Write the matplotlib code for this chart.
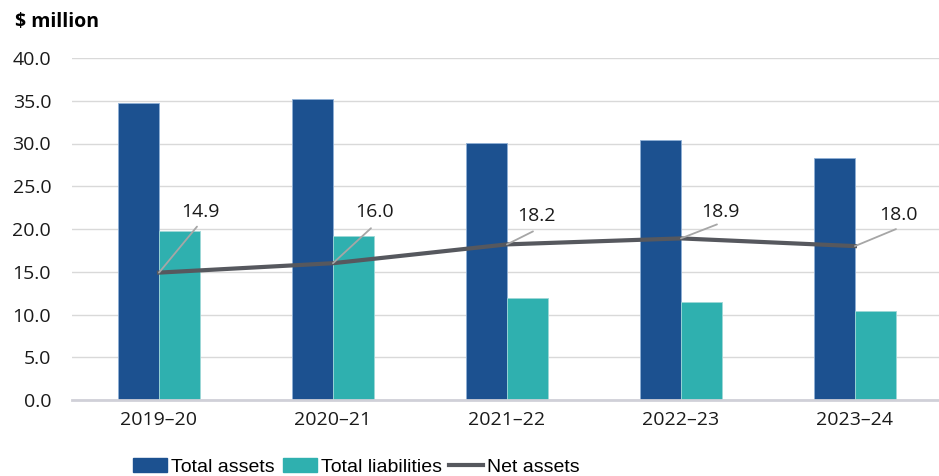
import matplotlib.pyplot as plt
from matplotlib.patches import Patch
from matplotlib.lines import Line2D
import numpy as np

years = ["2019–20", "2020–21", "2021–22", "2022–23", "2023–24"]
total_assets = [34.7, 35.2, 30.1, 30.4, 28.3]
total_liabilities = [19.8, 19.2, 11.9, 11.5, 10.4]
net_assets = [14.9, 16.0, 18.2, 18.9, 18.0]

# data label placement for net assets, in pixels from the point:
# (text centre dx, dy), (leader line end dx, dy)
text_offsets = [(41, 61), (42, 51), (29, 28), (39, 26), (43, 31)]
line_offsets = [(38, 46), (38, 35), (26, 13), (36, 14), (41, 17)]

plt.rcParams["font.family"] = ["Open Sans", "DejaVu Sans"]

fig = plt.figure(figsize=(9.39, 4.76), dpi=100)
ax = fig.add_axes([72 / 939, 1 - 400 / 476, (939 - 72) / 939, (400 - 58) / 476])

x = np.arange(len(years))
w = 0.238
ax.bar(x - w / 2, total_assets, w, color="#1C5190", edgecolor="#8FB0D6",
       linewidth=0.6, zorder=2)
ax.bar(x + w / 2, total_liabilities, w, color="#2FB0AF", edgecolor="#9ED8D7",
       linewidth=0.6, zorder=2)
ax.plot(x, net_assets, color="#56585E", linewidth=3, zorder=3)

px = 0.72  # points per pixel at 100 dpi
for xi, v, (tx, ty), (lx, ly) in zip(x, net_assets, text_offsets, line_offsets):
    ax.annotate("", xy=(xi, v), xytext=(lx * px, ly * px), textcoords="offset points",
                arrowprops=dict(arrowstyle="-", color="#A6A6A6", lw=1.3,
                                shrinkA=0, shrinkB=0), zorder=4)
    ax.annotate(f"{v:.1f}", xy=(xi, v), xytext=(tx * px, ty * px),
                textcoords="offset points", fontsize=14, ha="center",
                va="center", color="#1a1a1a", zorder=4)

ax.set_ylim(0, 40)
ax.set_xlim(-0.5, 4.483)
ticks = np.arange(0, 41, 5)
ax.set_yticks(ticks)
ax.set_yticklabels([f"{t:.1f}" for t in ticks])
ax.set_xticks(x)
ax.set_xticklabels(years)
ax.tick_params(axis="both", length=0, labelsize=14, colors="#1a1a1a")
ax.tick_params(axis="y", pad=15)
ax.tick_params(axis="x", pad=8)
ax.yaxis.grid(True, color="#D9D9D9", linewidth=1)
ax.set_axisbelow(True)
for s in ["top", "right", "left"]:
    ax.spines[s].set_visible(False)
ax.spines["bottom"].set_color("#D0D0D8")
ax.spines["bottom"].set_linewidth(2)

fig.text(15 / 939, 1 - 22 / 476, "$ million", fontsize=14, fontweight="bold",
         ha="left", va="center")

# legend: one entry per legend so each sits where the reference has it
entries = [
    (Patch(color="#1C5190"), "Total assets", 133),
    (Patch(color="#2FB0AF"), "Total liabilities", 283),
    (Line2D([], [], color="#56585E", linewidth=3), "Net assets", 449),
]
for handle, label, left in entries:
    fig.legend([handle], [label], loc="center left",
               bbox_to_anchor=(left / 939, 1 - 467 / 476), frameon=False,
               borderpad=0, borderaxespad=0,
               prop={"family": ["Liberation Sans", "DejaVu Sans"], "size": 14},
               handlelength=1.75, handleheight=0.75, handletextpad=0.2)

fig.savefig("out.png", dpi=100)
